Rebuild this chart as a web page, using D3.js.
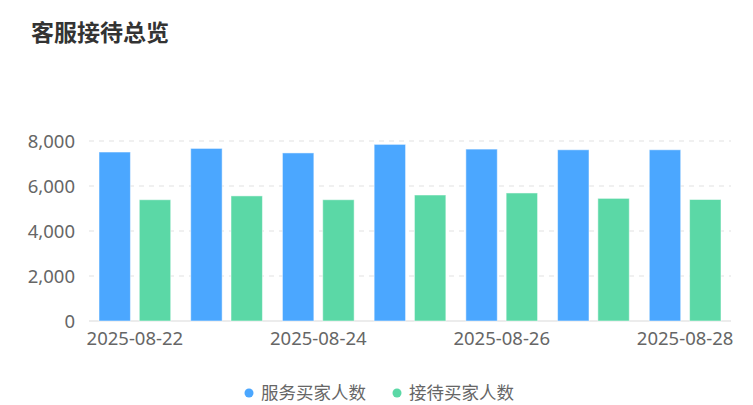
<!DOCTYPE html>
<html>
<head>
<meta charset="utf-8">
<script src="https://cdn.jsdelivr.net/npm/d3@7"></script>
<style>
  body { margin: 0; background: #fff; }
  svg { display: block; font-family: "Noto Sans", "Noto Sans CJK SC", sans-serif; }
</style>
</head>
<body>
<svg></svg>
<script>
width = 753;
height = 405;

// data
let dates = ["2025-08-22", "2025-08-23", "2025-08-24", "2025-08-25", "2025-08-26", "2025-08-27", "2025-08-28"];
let served = [7510, 7670, 7470, 7850, 7640, 7610, 7610];
let received = [5390, 5560, 5390, 5600, 5690, 5450, 5400];
let seriesNames = ["服务买家人数", "接待买家人数"];
let seriesColors = ["#4ba7ff", "#5bd8a6"];
let yTicks = [0, 2000, 4000, 6000, 8000];

let svg = d3.select("svg").attr("width", width).attr("height", height);

let plotLeft = 89, plotRight = 731, plotTop = 141, plotBottom = 321;

// title
svg.append("text")
    .attr("x", 31)
    .attr("y", 41)
    .style("font-size", "23px")
    .style("font-weight", "bold")
    .style("fill", "#333")
    .text("客服接待总览");

let x = d3.scaleBand().domain(dates).range([plotLeft, plotRight]).paddingInner(0).paddingOuter(0);
let x1 = d3.scaleBand().domain([0, 1]).range([10, x.bandwidth() - 10]).paddingInner(0.22);
let y = d3.scaleLinear().domain([0, 8000]).range([plotBottom, plotTop]);

// grid
svg.append("g")
    .selectAll("line")
    .data(yTicks)
    .join("line")
    .attr("x1", plotLeft)
    .attr("x2", plotRight)
    .attr("y1", d => y(d))
    .attr("y2", d => y(d))
    .style("stroke", d => d === 0 ? "#ececec" : "#ebebeb")
    .style("stroke-width", d => d === 0 ? 2 : 1.5)
    .style("stroke-dasharray", d => d === 0 ? null : "5,5");

// y axis labels
let yAxis = svg.append("g")
    .attr("transform", "translate(" + (plotLeft - 11) + ",0)")
    .call(d3.axisLeft(y).tickValues(yTicks).tickSize(0).tickFormat(d3.format(",")));
yAxis.select(".domain").remove();
yAxis.selectAll("text")
    .attr("dy", "0.35em")
    .style("font-family", "Noto Sans")
    .style("font-size", "18.5px")
    .style("fill", "#666");

// x axis labels
let xAxis = svg.append("g")
    .attr("transform", "translate(0," + plotBottom + ")")
    .call(d3.axisBottom(x).tickValues(dates.filter((d, i) => i % 2 === 0)).tickSize(0));
xAxis.select(".domain").remove();
xAxis.selectAll("text")
    .attr("y", 11)
    .attr("dy", "0.71em")
    .style("font-family", "Noto Sans")
    .style("font-size", "18.5px")
    .style("fill", "#666");

// bars
let allSeries = [served, received];
allSeries.forEach((vals, s) => {
    svg.append("g")
        .selectAll("rect")
        .data(vals)
        .join("rect")
        .attr("x", (d, i) => x(dates[i]) + x1(s))
        .attr("y", d => y(d))
        .attr("width", x1.bandwidth())
        .attr("height", d => y(0) - y(d))
        .style("fill", seriesColors[s])
        .style("stroke", "#fff")
        .style("stroke-opacity", 0.5)
        .style("stroke-width", 1);
});

// legend
let legendX = [249, 397];
let legend = svg.append("g");
seriesNames.forEach((name, s) => {
    legend.append("circle")
        .attr("cx", legendX[s])
        .attr("cy", 393)
        .attr("r", 4.5)
        .style("fill", seriesColors[s]);
    legend.append("text")
        .attr("x", legendX[s] + 12)
        .attr("y", 393)
        .attr("dy", "0.35em")
        .style("font-size", "17.5px")
        .style("fill", "#666")
        .text(name);
});
</script>
</body>
</html>
